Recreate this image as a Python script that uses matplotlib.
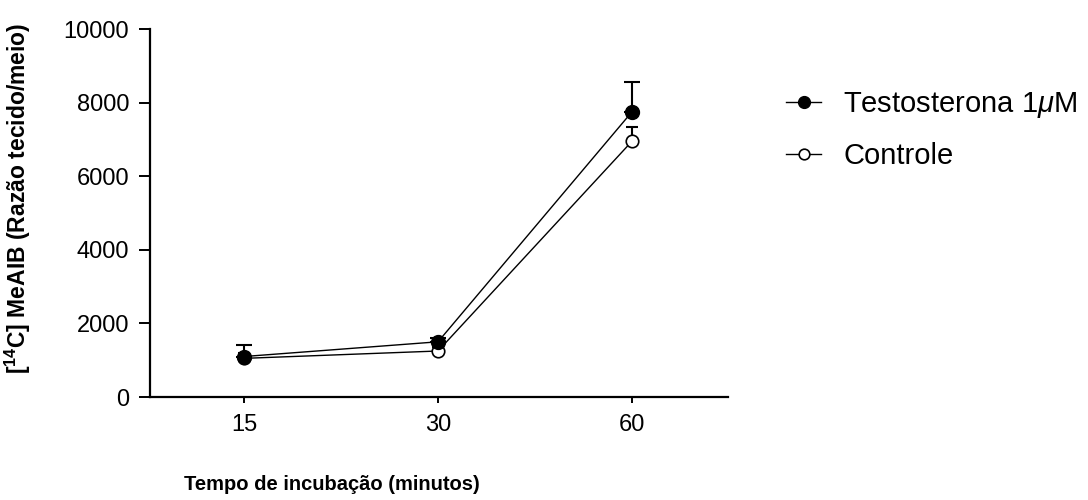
import matplotlib
matplotlib.use("Agg")
import matplotlib.pyplot as plt

plt.rcParams['font.family'] = ['Liberation Sans', 'DejaVu Sans']
plt.rcParams['mathtext.fontset'] = 'custom'
plt.rcParams['mathtext.rm'] = 'Liberation Sans'
plt.rcParams['mathtext.it'] = 'Liberation Sans:italic'
plt.rcParams['mathtext.bf'] = 'Liberation Sans:bold'

# tempo de incubação (min) e captação de MeAIB
tempos = ['15', '30', '60']
testosterona = [1100, 1500, 7750]
testosterona_ep = [300, 100, 820]
controle = [1050, 1250, 6950]
controle_ep = [150, 100, 400]
yticks = [0, 2000, 4000, 6000, 8000, 10000]

x = list(range(len(tempos)))

fig = plt.figure(figsize=(10.88, 5.0), dpi=100)
ax = fig.add_axes([150 / 1088, 1 - 397 / 500, (728 - 150) / 1088, (397 - 29) / 500])

# barras de erro só para cima
ax.errorbar(x, controle, yerr=[[0] * 3, controle_ep], fmt='none', ecolor='black',
            elinewidth=1.5, capsize=4, capthick=1.5, zorder=2)
ax.errorbar(x, testosterona, yerr=[[0] * 3, testosterona_ep], fmt='none', ecolor='black',
            elinewidth=1.5, capsize=6, capthick=1.5, zorder=3)

ax.plot(x, controle, color='black', lw=1, marker='o', ms=9, mfc='white', mec='black',
        mew=1.2, label='Controle', zorder=4)
ax.plot(x, testosterona, color='black', lw=1, marker='o', ms=10, mfc='black', mec='black',
        label=r'Testosterona 1$\mu$M', zorder=5)

ax.set_xlim(-0.485, 2.495)
ax.set_ylim(0, 10000)
ax.set_xticks(x)
ax.set_xticklabels(tempos)
ax.set_yticks(yticks)

for s in ['top', 'right']:
    ax.spines[s].set_visible(False)
for s in ['left', 'bottom']:
    ax.spines[s].set_linewidth(1.6)

ax.tick_params(axis='y', direction='out', length=8, width=1.4, labelsize=17, pad=7)
ax.tick_params(axis='x', direction='out', length=4, width=1.4, labelsize=17, pad=8)

handles, labels = ax.get_legend_handles_labels()
fig.legend(handles[::-1], labels[::-1], loc='center left',
           bbox_to_anchor=(760 / 1088, 1 - 130 / 500), frameon=False,
           fontsize=21, handlelength=1.2, handletextpad=0.75, labelspacing=0.75,
           markerscale=0.85)

fig.text(332 / 1088, 1 - 485 / 500, 'Tempo de incubação (minutos)', ha='center', va='center',
         fontsize=14.5, fontweight='bold')
fig.text(18 / 1088, 1 - 198 / 500, r'[$\mathbf{^{14}}$C] MeAIB (Razão tecido/meio)',
         rotation=90, ha='center', va='center', fontsize=16.5, fontweight='bold')

fig.savefig('out.png', dpi=100)
